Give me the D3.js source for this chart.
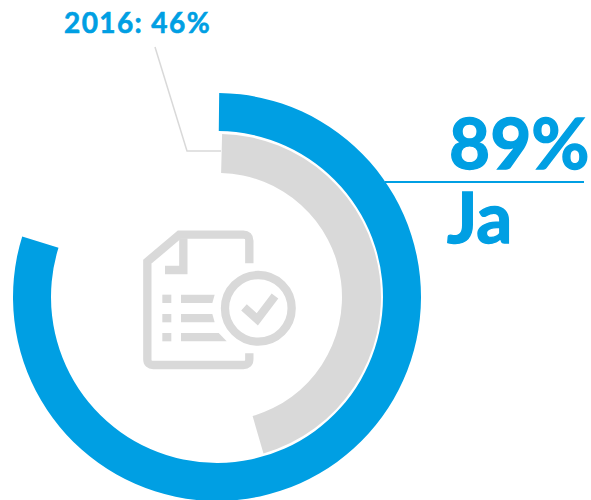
<!DOCTYPE html>
<html><head><meta charset="utf-8">
<script src="https://cdnjs.cloudflare.com/ajax/libs/d3/7.8.5/d3.min.js"></script>
<style>html,body{margin:0;padding:0;background:#fff}svg{display:block}text{font-family:Lato,sans-serif;font-weight:700;fill:#009fe3;stroke:#009fe3}</style>
</head><body><svg id="c" width="591" height="500"></svg>
<script>
const seriesNames = ["Ja", "2016"];
const arcShares = [0.798, 0.455]; // share of the full circle as drawn
const valueLabels = ["89%", "2016: 46%"];
const colors = ["#009fe3", "#d9d9d9"];

const svg = d3.select("#c");
const cx = 217, cy = 297;
const angle = d3.scaleLinear().domain([0, 1]).range([0, 2 * Math.PI]);
const rings = [{inner: 166, outer: 204, start: 0.0017, dx: 0}, {inner: 124, outer: 163, start: 0.004, dx: 1}];
const arc = d3.arc();
const g = svg.append("g").attr("transform", `translate(${cx},${cy})`);
g.selectAll("path").data(arcShares).join("path")
  .attr("fill", (d, i) => colors[i])
  .attr("transform", (d, i) => `translate(${rings[i].dx},0)`)
  .attr("d", (d, i) => arc({innerRadius: rings[i].inner, outerRadius: rings[i].outer,
    startAngle: angle(rings[i].start), endAngle: angle(d)}));

svg.append("path").attr("d", "M155,47L187,151L221,151").attr("fill", "none")
  .attr("stroke", colors[1]).attr("stroke-width", 1.5);
svg.append("line").attr("x1", 385).attr("x2", 584).attr("y1", 182).attr("y2", 182)
  .attr("stroke", colors[0]).attr("stroke-width", 2);

svg.append("text").attr("x", 449).attr("y", 169).attr("font-size", 71).attr("stroke-width", 1.4).text(valueLabels[0]);
svg.append("text").attr("x", 447).attr("y", 243).attr("font-size", 71).attr("stroke-width", 1.4).text(seriesNames[0]);
svg.append("text").attr("x", 64).attr("y", 33).attr("font-size", 28).attr("letter-spacing", 1.4).attr("stroke-width", 0.6).text(valueLabels[1]);

const icon = svg.append("g").attr("transform", "translate(130,220) scale(0.3333)")
  .attr("fill", "none").attr("stroke", colors[1]).attr("stroke-width", 25);
icon.append("path").attr("d", "M358,130V62Q358,44 340,44H148L52,125V418Q52,435 70,435H340Q358,435 358,418V400");
icon.append("path").attr("d", "M160,55V150H105");
icon.append("circle").attr("cx", 385).attr("cy", 265).attr("r", 100);
icon.append("path").attr("d", "M342,262L382,298L435,228");
const ic = icon.append("g").attr("fill", colors[1]).attr("stroke", "none");
[224, 282, 339].forEach(y => ic.append("rect").attr("x", 97).attr("y", y).attr("width", 27).attr("height", 25));
ic.append("path").attr("d", "M153,224H254L247,249H153Z");
ic.append("path").attr("d", "M153,282H247L254,307H153Z");
ic.append("path").attr("d", "M153,339H266L290,364H153Z");
</script></body></html>
